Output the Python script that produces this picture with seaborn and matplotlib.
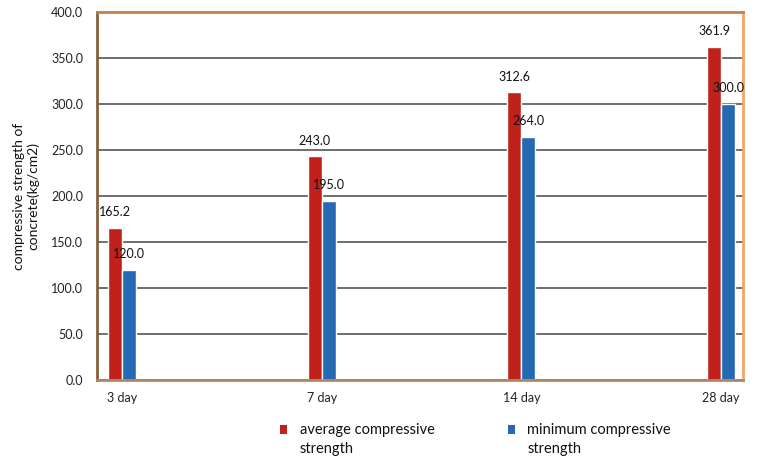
import matplotlib
matplotlib.use("Agg")
import matplotlib.pyplot as plt
import seaborn as sns
import pandas as pd
from matplotlib.patches import Patch, Rectangle
from matplotlib.legend_handler import HandlerPatch
from matplotlib.ticker import FormatStrFormatter

# Curing ages and measured strengths (kg/cm2)
ages = ["3 day", "7 day", "14 day", "28 day"]
average_strength = [165.2, 243.0, 312.6, 361.9]
minimum_strength = [120.0, 195.0, 264.0, 300.0]
series_names = ["average compressive\nstrength", "minimum compressive\nstrength"]
series_colors = ["#C0211B", "#2469B2"]

df = pd.DataFrame({
    "age": ages * 2,
    "strength": average_strength + minimum_strength,
    "series": [series_names[0]] * len(ages) + [series_names[1]] * len(ages),
})

sns.set_theme(style="white")
plt.rcParams["font.family"] = ["Lato", "DejaVu Sans"]

fig = plt.figure(figsize=(7.6, 4.59), dpi=100)
ax = fig.add_axes([97 / 760, 1 - 380 / 459, (743 - 97) / 760, (380 - 12) / 459])

sns.barplot(data=df, x="age", y="strength", hue="series", order=ages,
            hue_order=series_names, palette=series_colors, width=0.14,
            saturation=1, legend=False, ax=ax)

ax.set_xlim(-0.125, 3.11)
ax.set_ylim(0, 400)
ax.set_yticks(range(0, 401, 50))
ax.yaxis.set_major_formatter(FormatStrFormatter("%.1f"))
ax.grid(axis="y", color="#6E6E6E", linewidth=1.4)
ax.set_axisbelow(True)
ax.tick_params(axis="both", length=0, labelsize=9, colors="#222222")
ax.tick_params(axis="x", pad=9)
ax.tick_params(axis="y", pad=10)
ax.set_xlabel("")
ax.set_ylabel("compressive strength of\nconcrete(kg/cm2)", fontsize=10,
              color="#111111", labelpad=8)

for side, col in {"left": "#85603F", "bottom": "#B08868",
                  "top": "#C4804A", "right": "#F3A668"}.items():
    ax.spines[side].set_visible(True)
    ax.spines[side].set_color(col)
    ax.spines[side].set_linewidth(2)

for container in ax.containers:
    ax.bar_label(container, fmt="%.1f", padding=7, fontsize=9,
                 color="#111111")


def square_on_first_line(legend, orig_handle, xdescent, ydescent,
                         width, height, fontsize):
    # keep the colour key level with the first line of a two-line label
    return Rectangle((-xdescent, -ydescent + 7.5), width, height)


handles = [Patch(facecolor=c, edgecolor="none") for c in series_colors]
leg = fig.legend(handles, series_names, loc="upper left",
                 bbox_to_anchor=(267 / 760, 1 - 410 / 459), ncol=2,
                 frameon=False, fontsize=10.5, handlelength=0.5,
                 handleheight=0.5, handletextpad=0.85, columnspacing=5.0,
                 handler_map={Patch: HandlerPatch(patch_func=square_on_first_line)})
for t in leg.get_texts():
    t.set_linespacing(1.45)
    t.set_color("#111111")

fig.savefig("out.png", dpi=100)
